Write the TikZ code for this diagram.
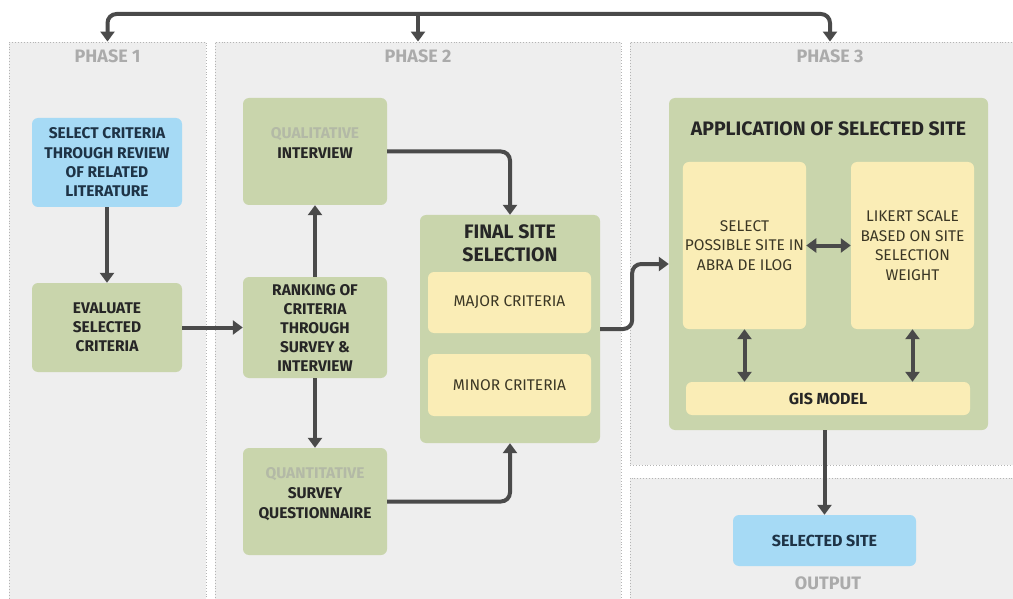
\documentclass[tikz,border=0pt]{standalone}
\usepackage{fontspec}
\setmainfont{Fira Sans}
\usetikzlibrary{arrows.meta,positioning}

\definecolor{panelfill}{HTML}{EEEEEE}
\definecolor{paneledge}{HTML}{B4B4B4}
\definecolor{sage}{HTML}{C9D5AC}
\definecolor{skyblue}{HTML}{A6DAF5}
\definecolor{cream}{HTML}{FAEDB6}
\definecolor{arrowgray}{HTML}{4A4A4A}
\definecolor{phasegray}{HTML}{ABABAB}
\definecolor{fadedtext}{HTML}{B3B9A6}
\definecolor{inktext}{HTML}{262626}
\definecolor{navytext}{HTML}{1E3346}
\definecolor{olivetext}{HTML}{3B3725}

\begin{document}
\begin{tikzpicture}[
	x=1pt, y=-1pt,
	>={Triangle[length=10pt,width=14pt]},
	panel/.style={fill=panelfill, draw=paneledge, dotted, line width=0.9pt, inner sep=0pt},
	phase label/.style={text=phasegray, inner sep=0pt, font=\bfseries\fontsize{18}{20}\selectfont},
	box/.style={rounded corners=6pt, inner sep=2pt, align=center},
	green box/.style={box, fill=sage, text=inktext, font=\bfseries\fontsize{15.5}{19}\selectfont},
	blue box/.style={box, fill=skyblue, text=navytext, font=\bfseries\fontsize{15.5}{19.3}\selectfont},
	cream box/.style={box, fill=cream, text=olivetext, font=\fontsize{15.5}{19.5}\selectfont},
	title node/.style={align=center, text=inktext, inner sep=0pt},
	flow/.style={draw=arrowgray, line width=4pt, ->, rounded corners=9pt},
	both ways/.style={draw=arrowgray, line width=4pt, <->}
	]
	\useasboundingbox (0,0) rectangle (1013,599);
	\clip (0,0) rectangle (1013,599);
	\fill[white] (0,0) rectangle (1013,599);
	
	% phase panels
	\node[panel, minimum width=197pt, minimum height=570pt] (ph1) at (107.5,327) {};
	\node[panel, minimum width=406pt, minimum height=570pt] (ph2) at (418,327) {};
	\node[panel, minimum width=400pt, minimum height=423pt] (ph3) at (830,253.5) {};
	\node[panel, minimum width=400pt, minimum height=142pt] (outp) at (830,549) {};
	
	\node[phase label, below=8pt of ph1.north] (ph1lbl) {PHASE 1};
	\node[phase label, below=8pt of ph2.north] (ph2lbl) {PHASE 2};
	\node[phase label, below=8pt of ph3.north] (ph3lbl) {PHASE 3};
	\node[phase label] (outlbl) at (828,583) {OUTPUT};
	
	% phase 1
	\node[blue box, minimum width=150pt, minimum height=89pt] (selcrit) at (107,162.5) {SELECT CRITERIA\\THROUGH REVIEW\\OF RELATED\\LITERATURE};
	\node[green box, minimum width=150pt, minimum height=89pt] (evalcrit) at (107,327.5) {EVALUATE\\SELECTED\\CRITERIA};
	
	% phase 2
	\node[green box, minimum width=144pt, minimum height=107pt] (qualint) at (315,151.5) {};
	\node[title node, font=\bfseries\fontsize{15.5}{20}\selectfont, below=29pt of qualint.north] (qualtxt) {\textcolor{fadedtext}{QUALITATIVE}\\INTERVIEW};
	\node[green box, minimum width=144pt, minimum height=101pt] (ranking) at (315,327.5) {RANKING OF\\CRITERIA\\THROUGH\\SURVEY \&\\INTERVIEW};
	\node[green box, minimum width=144pt, minimum height=107pt] (quantsurv) at (315,501.5) {};
	\node[title node, font=\bfseries\fontsize{15.5}{20}\selectfont, below=19pt of quantsurv.north] (quanttxt) {\textcolor{fadedtext}{QUANTITATIVE}\\SURVEY\\QUESTIONNAIRE};
	
	\node[green box, minimum width=180pt, minimum height=228pt] (finalsel) at (510,329) {};
	\node[title node, font=\bfseries\fontsize{19.5}{22.5}\selectfont, below=10pt of finalsel.north] (finaltxt) {FINAL SITE\\SELECTION};
	\node[cream box, minimum width=163pt, minimum height=61pt] (majorcrit) at (509.5,302.5) {MAJOR CRITERIA};
	\node[cream box, minimum width=163pt, minimum height=62pt] (minorcrit) at (509.5,385) {MINOR CRITERIA};
	
	% phase 3
	\node[green box, minimum width=319pt, minimum height=332pt] (application) at (828.5,264) {};
	\node[title node, font=\bfseries\fontsize{19.5}{22}\selectfont, below=24pt of application.north] (apptxt) {APPLICATION OF SELECTED SITE};
	\node[cream box, minimum width=121pt, minimum height=167pt] (possite) at (744.5,245.5) {SELECT\\POSSIBLE SITE IN\\ABRA DE ILOG};
	\node[cream box, minimum width=123pt, minimum height=167pt] (likert) at (912.5,245.5) {LIKERT SCALE\\BASED ON SITE\\SELECTION\\WEIGHT};
	\node[cream box, text=inktext, font=\bfseries\fontsize{16}{20}\selectfont, minimum width=284pt, minimum height=33pt] (gismodel) at (828,398.5) {GIS MODEL};
	
	% output
	\node[blue box, font=\bfseries\fontsize{16}{19}\selectfont, minimum width=183pt, minimum height=51pt] (selsite) at (824.5,540.5) {SELECTED SITE};
	
	% connectors
	\coordinate (topbar) at (418,14);
	\draw[flow, <->] (ph1.north) |- (topbar) -| (ph3.north);
	\draw[flow] (topbar) -- (ph2.north);
	
	\draw[flow] (selcrit) -- (evalcrit);
	\draw[flow] (evalcrit) -- (ranking);
	\draw[flow] (ranking) -- (qualint);
	\draw[flow] (ranking) -- (quantsurv);
	\draw[flow] (qualint.east) -| (finalsel.north);
	\draw[flow] (quantsurv.east) -| (finalsel.south);
	\draw[flow] (finalsel.east) -- ++(32,0) |- (application.west);
	
	\draw[both ways] (possite) -- (likert);
	\draw[both ways] (possite.south) -- (possite.south |- gismodel.north);
	\draw[both ways] (likert.south) -- (likert.south |- gismodel.north);
	\draw[flow] (application.south -| selsite.north) -- (selsite.north);
	
\end{tikzpicture}
\end{document}
